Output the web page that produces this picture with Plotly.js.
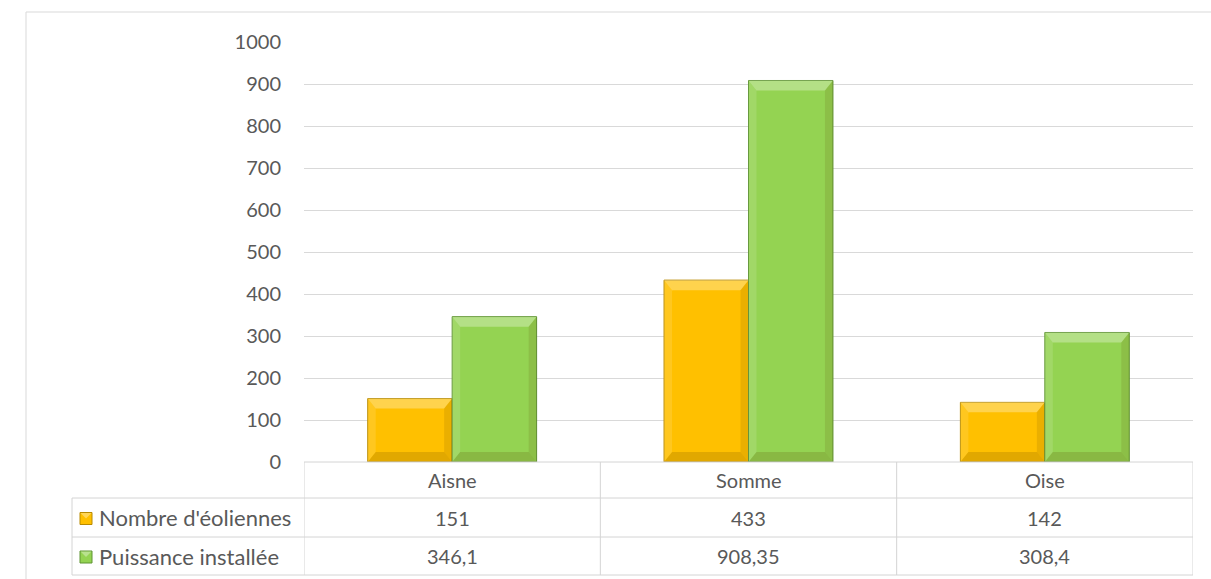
<!DOCTYPE html>
<html>
<head>
<meta charset="utf-8">
<script src="https://cdn.plot.ly/plotly-3.0.1.min.js"></script>
<style>
  html, body { margin: 0; padding: 0; background: #ffffff; }
  #chart { width: 1211px; height: 579px; }
</style>
</head>
<body>
<div id="chart"></div>
<script>
// Wind farms in Picardie, by département
const categories = ['Aisne', 'Somme', 'Oise'];
const nombreEoliennes = [151, 433, 142];
const puissanceInstallee = [346.1, 908.35, 308.4];
const seriesNames = ["Nombre d'éoliennes", 'Puissance installée'];
const yTickValues = [0, 100, 200, 300, 400, 500, 600, 700, 800, 900, 1000];

// Figure geometry (pixels)
const W = 1211, H = 579;
const M = { l: 304, r: 18, t: 42, b: 117 };
const plotW = W - M.l - M.r;
const plotH = H - M.t - M.b;
const X_RANGE = [-0.5, 2.5];
const Y_RANGE = [0, 1000];
const BARGAP = 0.43;

const FONT = 'Lato, "Open Sans", sans-serif';
const TEXT = '#595959';
const GRID = '#d9d9d9';

const series = [
  { name: seriesNames[0], values: nombreEoliennes, fill: '#FFC000', edge: '#B88A00' },
  { name: seriesNames[1], values: puissanceInstallee, fill: '#94D352', edge: '#5F9432' }
];

// pixel -> paper helpers for the data table drawn under the plot
const pxX = px => (px - M.l) / plotW;
const pxY = py => (H - M.b - py) / plotH;
// pixel lengths -> data lengths
const dxPerPx = (X_RANGE[1] - X_RANGE[0]) / plotW;
const dyPerPx = (Y_RANGE[1] - Y_RANGE[0]) / plotH;

const fmt = v => String(v).replace('.', ',');

const traces = series.map(s => ({
  type: 'bar',
  x: categories.map((c, i) => i),
  y: s.values,
  name: s.name,
  marker: { color: s.fill, line: { color: s.edge, width: 1 } },
  hoverinfo: 'x+y'
}));

const shapes = [];
const annotations = [];

// Bevel facets on each bar, built from the bar's own value and slot
const barW = (1 - BARGAP) / series.length;
const bx = 8 * dxPerPx, by = 10 * dyPerPx;
function poly(pts, color) {
  shapes.push({
    type: 'path', xref: 'x', yref: 'y', layer: 'above',
    path: 'M' + pts.map(p => p[0] + ',' + p[1]).join(' L') + ' Z',
    fillcolor: color, line: { width: 0 }
  });
}
series.forEach((s, k) => {
  s.values.forEach((v, i) => {
    const x0 = i - (1 - BARGAP) / 2 + k * barW;
    const x1 = x0 + barW;
    poly([[x0, v], [x1, v], [x1 - bx, v - by], [x0 + bx, v - by]], 'rgba(255,255,255,0.30)');
    poly([[x0, 0], [x0, v], [x0 + bx, v - by], [x0 + bx, by]], 'rgba(255,255,255,0.12)');
    poly([[x1, 0], [x1, v], [x1 - bx, v - by], [x1 - bx, by]], 'rgba(90,60,0,0.13)');
    poly([[x0, 0], [x1, 0], [x1 - bx, by], [x0 + bx, by]], 'rgba(90,60,0,0.18)');
  });
});

// Data table grid
const tableLine = { color: '#d4d4d4', width: 1 };
const rowTops = [462, 498, 537, 575];
const tableLeft = 72, tableRight = M.l + plotW;
function hline(y, xa, xb) {
  shapes.push({ type: 'line', xref: 'paper', yref: 'paper', x0: pxX(xa), x1: pxX(xb), y0: pxY(y), y1: pxY(y), line: tableLine, layer: 'above' });
}
hline(rowTops[0], M.l, tableRight);
hline(rowTops[1], tableLeft, tableRight);
hline(rowTops[2], tableLeft, tableRight);
hline(rowTops[3], tableLeft, tableRight);
shapes.push({ type: 'line', xref: 'paper', yref: 'paper', x0: pxX(tableLeft), x1: pxX(tableLeft), y0: pxY(rowTops[1]), y1: pxY(rowTops[3]), line: tableLine });
for (let b = 0; b <= categories.length; b++) {
  const xv = b - 0.5;
  shapes.push({ type: 'line', xref: 'x', yref: 'paper', x0: xv, x1: xv, y0: pxY(rowTops[0]), y1: pxY(rowTops[3]), line: tableLine });
}

// Chart frame
const frame = { color: '#d9d9d9', width: 1 };
shapes.push({ type: 'line', xref: 'paper', yref: 'paper', x0: pxX(26), x1: pxX(26), y0: pxY(12), y1: pxY(H + 5), line: frame });
shapes.push({ type: 'line', xref: 'paper', yref: 'paper', x0: pxX(26), x1: pxX(W + 5), y0: pxY(12), y1: pxY(12), line: frame });

const txt = { family: FONT, size: 20, color: TEXT };
const rowTxt = { family: FONT, size: 22, color: TEXT };
const rowMid = r => pxY((rowTops[r] + rowTops[r + 1]) / 2);

categories.forEach((c, i) => {
  annotations.push({ x: i, y: rowMid(0), xref: 'x', yref: 'paper', text: c, showarrow: false, font: txt, xanchor: 'center', yanchor: 'middle' });
});
series.forEach((s, k) => {
  s.values.forEach((v, i) => {
    annotations.push({ x: i, y: rowMid(k + 1), xref: 'x', yref: 'paper', text: fmt(v), showarrow: false, font: txt, xanchor: 'center', yanchor: 'middle' });
  });
  annotations.push({ x: pxX(97), y: rowMid(k + 1), xref: 'paper', yref: 'paper', text: s.name, showarrow: false, font: rowTxt, xanchor: 'left', yanchor: 'middle' });
  // legend key
  const cy = (rowTops[k + 1] + rowTops[k + 2]) / 2 + 1;
  shapes.push({ type: 'rect', xref: 'paper', yref: 'paper', x0: pxX(80), x1: pxX(92), y0: pxY(cy - 6), y1: pxY(cy + 6), fillcolor: s.fill, line: { color: s.edge, width: 1 }, layer: 'above' });
  shapes.push({ type: 'path', xref: 'paper', yref: 'paper', layer: 'above', fillcolor: 'rgba(255,255,255,0.35)', line: { width: 0 },
    path: `M${pxX(80.5)},${pxY(cy - 5.5)} L${pxX(91.5)},${pxY(cy - 5.5)} L${pxX(86)},${pxY(cy)} Z` });
});

const layout = {
  width: W, height: H,
  margin: M,
  paper_bgcolor: '#ffffff', plot_bgcolor: '#ffffff',
  showlegend: false,
  barmode: 'group', bargap: BARGAP, bargroupgap: 0,
  font: txt,
  xaxis: { range: X_RANGE, showticklabels: false, showgrid: false, zeroline: false, showline: false, fixedrange: true },
  yaxis: {
    range: Y_RANGE, tickvals: yTickValues, ticktext: yTickValues.map(String),
    showgrid: true, gridcolor: GRID, gridwidth: 1, zeroline: false, showline: false,
    ticks: '', ticklabelstandoff: 22, tickfont: txt, fixedrange: true
  },
  shapes: shapes,
  annotations: annotations
};

Plotly.newPlot('chart', traces, layout, { displayModeBar: false, staticPlot: true });
</script>
</body>
</html>
